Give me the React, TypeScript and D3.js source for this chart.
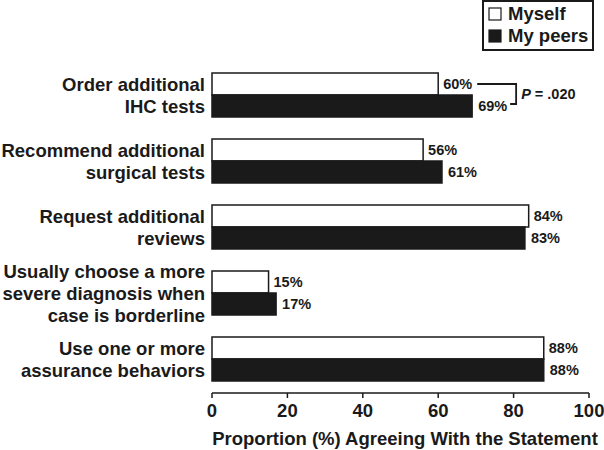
import React from "react";
import * as d3 from "d3";

const categories = [
  ["Order additional", "IHC tests"],
  ["Recommend additional", "surgical tests"],
  ["Request additional", "reviews"],
  ["Usually choose a more", "severe diagnosis when", "case is borderline"],
  ["Use one or more", "assurance behaviors"],
];
const myself = [60, 56, 84, 15, 88];
const peers = [69, 61, 83, 17, 88];
const xTicks = [0, 20, 40, 60, 80, 100];
const seriesNames = ["Myself", "My peers"];

const FONT = "'Liberation Sans', Arial, Helvetica, sans-serif";

export default function App() {
  const W = 604, H = 450;
  const x = d3.scaleLinear().domain([0, 100]).range([212, 589]);
  const y = d3
    .scaleBand<number>()
    .domain(d3.range(categories.length))
    .range([62, 392])
    .paddingInner(1 / 3)
    .paddingOuter(1 / 6);
  const bw = y.bandwidth() / 2;
  const axisY = 393;

  const p0y = (y(0) as number) + bw / 2;
  const p1y = (y(0) as number) + bw * 1.5;
  const bx = x(69) + 44;

  return (
    <svg width={W} height={H} style={{ position: "absolute", left: 0, top: 0 }} fontFamily={FONT} fontWeight="bold">
      <rect width={W} height={H} fill="#fff" />
      {/* legend */}
      <rect x={483} y={1} width={110} height={49} fill="#fff" stroke="#1a1a1a" strokeWidth={2} />
      {seriesNames.map((n, i) => (
        <g key={n}>
          <rect x={489} y={8 + i * 22} width={12} height={12} fill={i === 0 ? "#fff" : "#1a1a1a"} stroke="#1a1a1a" strokeWidth={1.2} />
          <text x={508} y={20 + i * 22} fontSize={18.5} fill="#1a1a1a">{n}</text>
        </g>
      ))}
      {categories.map((lines, i) => {
        const top = y(i) as number;
        const cy = top + bw;
        const n = lines.length;
        return (
          <g key={i}>
            {lines.map((l, j) => {
              const ly = n === 2 ? top + bw / 2 + j * bw : cy + (j - 1) * 22;
              return (
                <text key={j} x={205} y={ly} dy="0.36em" textAnchor="end" fontSize={18.5} fill="#1a1a1a">{l}</text>
              );
            })}
            <rect x={x(0)} y={top} width={x(myself[i]) - x(0)} height={bw} fill="#fff" stroke="#1a1a1a" strokeWidth={1.5} />
            <rect x={x(0)} y={top + bw} width={x(peers[i]) - x(0)} height={bw} fill="#1a1a1a" stroke="#1a1a1a" strokeWidth={1.5} />
            <text x={x(myself[i]) + 5} y={top + bw / 2} dy="0.36em" fontSize={14.5} fill="#1a1a1a">{myself[i]}%</text>
            <text x={x(peers[i]) + 6} y={top + bw * 1.5} dy="0.36em" fontSize={14.5} fill="#1a1a1a">{peers[i]}%</text>
          </g>
        );
      })}
      {/* significance bracket */}
      <path d={`M${x(60) + 39},${p0y} H${bx} V${p1y - 2} H${bx - 6}`} fill="none" stroke="#1a1a1a" strokeWidth={1.8} />
      <text x={bx + 5} y={(p0y + p1y) / 2 - 1} dy="0.36em" fontSize={14.5} fill="#1a1a1a">
        <tspan fontStyle="italic">P</tspan> = .020
      </text>
      {/* x axis */}
      <line x1={x(0)} x2={x(100)} y1={axisY} y2={axisY} stroke="#1a1a1a" strokeWidth={1.5} />
      {xTicks.map((t) => (
        <g key={t}>
          <line x1={x(t)} x2={x(t)} y1={axisY} y2={axisY + 5} stroke="#1a1a1a" strokeWidth={1.5} />
          <text x={x(t)} y={417} textAnchor="middle" fontSize={18.5} fill="#1a1a1a">{t}</text>
        </g>
      ))}
      <text x={405} y={445} textAnchor="middle" fontSize={18.5} fill="#1a1a1a">Proportion (%) Agreeing With the Statement</text>
    </svg>
  );
}
